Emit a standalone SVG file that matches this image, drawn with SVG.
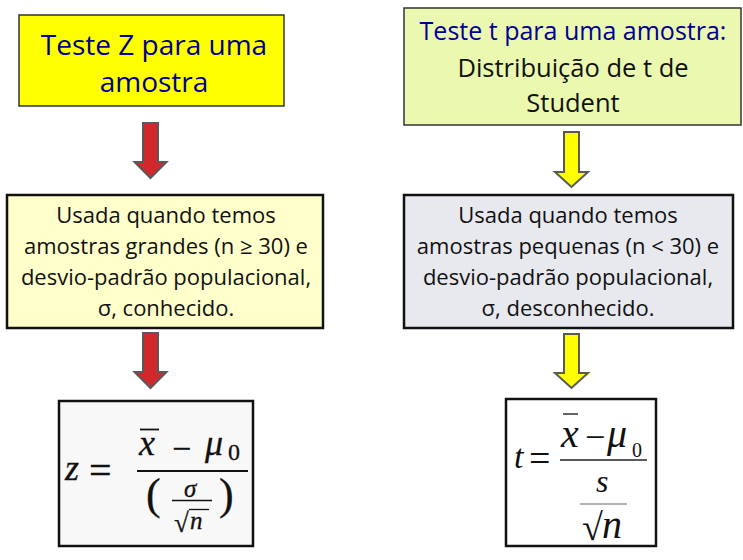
<svg xmlns="http://www.w3.org/2000/svg" width="743" height="560" viewBox="0 0 743 560">
<style>
.t{font-family:"Open Sans","Noto Sans",sans-serif;text-anchor:middle;fill:#111}
.blue{fill:#000090}
.m{font-family:"Liberation Serif","Times New Roman",serif;fill:#111}
.cm{stroke:#111;stroke-width:0.3}
.mi{font-style:italic}
.box{stroke:#111;stroke-width:2.5}
.arrR{fill:#D2282B;stroke:#595959;stroke-width:2;stroke-linejoin:miter}
.arrY{fill:#FFFF00;stroke:#595959;stroke-width:2;stroke-linejoin:miter}
</style>
<rect width="743" height="560" fill="#FFFFFF"/>
<g id="connectors">
<path class="arrR" d="M143,123 H158 V162 H166.5 L150.5,178 L134.5,162 H143 Z"/>
<path class="arrY" d="M564,132 H579 V172 H588 L571.5,187 L555,172 H564 Z"/>
<path class="arrR" d="M143,333 H158 V372 H166.5 L150.5,388 L134.5,372 H143 Z"/>
<path class="arrY" d="M564,334 H579 V373 H588 L571.5,388 L555,373 H564 Z"/>
</g>
<g id="n1">
<rect x="19" y="15" width="265" height="91" fill="#FFFF00" stroke="#333" stroke-width="1.5"/>
<text class="t blue" x="154" y="55" font-size="28">Teste Z para uma</text>
<text class="t blue" x="154" y="92" font-size="28">amostra</text>
</g>
<g id="n2">
<rect x="404" y="8" width="337" height="117" fill="#EBF9B0" stroke="#333" stroke-width="1.5"/>
<text class="t blue" x="573" y="40" font-size="25">Teste t para uma amostra:</text>
<text class="t" x="573" y="77" font-size="25.5">Distribuição de t de</text>
<text class="t" x="573" y="112" font-size="25.5">Student</text>
</g>
<g id="n3">
<rect class="box" x="7" y="195" width="316" height="133" fill="#FFFFCC"/>
<text class="t" x="166" y="223" font-size="22">Usada quando temos</text>
<text class="t" x="166" y="254" font-size="22">amostras grandes (n ≥ 30) e</text>
<text class="t" x="166" y="285" font-size="22">desvio-padrão populacional,</text>
<text class="t" x="166" y="316" font-size="22">σ, conhecido.</text>
</g>
<g id="n4">
<rect class="box" x="404" y="195" width="329" height="133" fill="#E8E9EE"/>
<text class="t" x="568" y="223" font-size="22">Usada quando temos</text>
<text class="t" x="568" y="254" font-size="22">amostras pequenas (n &lt; 30) e</text>
<text class="t" x="568" y="285" font-size="22">desvio-padrão populacional,</text>
<text class="t" x="568" y="316" font-size="22">σ, desconhecido.</text>
</g>
<g id="n5">
<rect class="box" x="59" y="401" width="194" height="145" fill="#F8F8F8"/>
<text class="m mi cm" x="65" y="480" font-size="36">z</text>
<text class="m cm" x="89" y="484" font-size="40">=</text>
<line x1="137" y1="471" x2="248" y2="471" stroke="#111" stroke-width="1.8"/>
<line x1="140" y1="429.5" x2="159" y2="429.5" stroke="#111" stroke-width="1.8"/>
<text class="m mi cm" x="139" y="455" font-size="36">x</text>
<text class="m cm" x="172" y="460" font-size="34">−</text>
<text class="m mi cm" x="205" y="455" font-size="36">μ</text>
<text class="m cm" x="228" y="460" font-size="24">0</text>
<text class="m cm" x="146" y="509" font-size="44">(</text>
<text class="m mi cm" x="184" y="497" font-size="25">σ</text>
<line x1="172" y1="500.5" x2="212" y2="500.5" stroke="#111" stroke-width="1.4"/>
<text class="m cm" x="174" y="532" font-size="27">√</text>
<line x1="189" y1="509.5" x2="209" y2="509.5" stroke="#111" stroke-width="1.3"/>
<text class="m mi cm" x="190" y="529" font-size="25">n</text>
<text class="m cm" x="219" y="509" font-size="44">)</text>
</g>
<g id="n6">
<rect class="box" x="506" y="399" width="150" height="147" fill="#FFFFFF" stroke="#000"/>
<text class="m mi" x="514" y="468" font-size="34">t</text>
<text class="m" x="529" y="471" font-size="38">=</text>
<line x1="560" y1="460" x2="647" y2="460" stroke="#222" stroke-width="1.4"/>
<line x1="563" y1="414" x2="578" y2="414" stroke="#222" stroke-width="1.4"/>
<text class="m mi" x="561" y="447" font-size="40">x</text>
<text class="m" x="585" y="449" font-size="36">−</text>
<text class="m mi" x="607" y="447" font-size="40">μ</text>
<text class="m" x="632" y="457" font-size="20">0</text>
<text class="m mi" x="596" y="492" font-size="32">s</text>
<line x1="580" y1="504" x2="627" y2="504" stroke="#999" stroke-width="1.4"/>
<text class="m" x="582" y="540" font-size="38">√</text>
<text class="m mi" x="602" y="538" font-size="40">n</text>
</g>
</svg>
